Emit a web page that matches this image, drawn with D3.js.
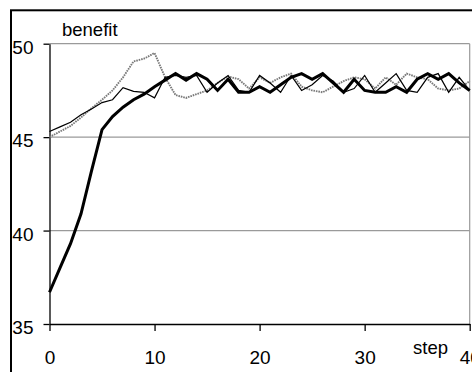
<!DOCTYPE html>
<html>
<head>
<meta charset="utf-8">
<script src="https://cdn.jsdelivr.net/npm/d3@7/dist/d3.min.js"></script>
<style>
  html, body { margin: 0; padding: 0; background: #fff; }
  svg { display: block; }
  text { font-family: "Liberation Sans", Arial, sans-serif; fill: #000; }
</style>
</head>
<body>
<svg id="chart" width="472" height="372"></svg>
<script>
// steps 0..40
const steps = d3.range(0, 41);

// three runs of the benefit over the steps
const runThick = [36.7, 38.0, 39.3, 40.9, 43.2, 45.4, 46.1, 46.6, 47.0, 47.3,
  47.7, 48.05, 48.4, 48.05, 48.4, 48.1, 47.5, 48.1, 47.4, 47.4,
  47.7, 47.4, 47.8, 48.2, 48.4, 48.1, 48.4, 47.9, 47.4, 48.1,
  47.5, 47.4, 47.4, 47.7, 47.4, 48.1, 48.4, 48.1, 48.4, 47.9, 47.5];

const runThin = [45.3, 45.55, 45.8, 46.2, 46.5, 46.85, 47.0, 47.65, 47.45, 47.4,
  47.1, 48.2, 48.3, 48.2, 48.3, 47.4, 47.9, 48.3, 47.5, 47.4,
  48.3, 47.9, 47.4, 48.3, 47.5, 47.8, 48.3, 48.0, 47.4, 47.6,
  48.3, 47.4, 47.9, 48.4, 47.5, 47.4, 48.2, 48.4, 47.4, 48.2, 47.5];

const runGray = [45.0, 45.3, 45.6, 46.05, 46.55, 47.0, 47.5, 48.2, 49.05, 49.2,
  49.5, 48.2, 47.25, 47.1, 47.3, 47.5, 47.9, 48.25, 48.1, 47.6,
  48.2, 47.9, 48.2, 48.4, 47.7, 47.5, 47.4, 47.7, 48.0, 48.2,
  48.1, 47.6, 48.2, 47.8, 48.4, 48.2, 48.1, 47.6, 47.5, 47.6, 48.0];

const xTicks = [0, 10, 20, 30, 40];
const yTicks = [35, 40, 45, 50];
const gridValues = [40, 45, 50];

const svg = d3.select("#chart");

const x = d3.scaleLinear().domain([0, 40]).range([49.5, 469.7]);
const y = d3.scaleLinear().domain([35, 50]).range([324, 43.7]);

// outer frame
svg.append("rect")
  .attr("x", 11).attr("y", 10.3)
  .attr("width", 600).attr("height", 500)
  .attr("fill", "none").attr("stroke", "#000").attr("stroke-width", 2);

// horizontal gridlines
svg.append("g").selectAll("line").data(gridValues).join("line")
  .attr("x1", x(0)).attr("x2", x(40))
  .attr("y1", d => y(d)).attr("y2", d => y(d))
  .attr("stroke", "#9a9a9a").attr("stroke-width", 1.2);

// right edge of plot area
svg.append("line")
  .attr("x1", x(40)).attr("x2", x(40))
  .attr("y1", y(50)).attr("y2", y(35))
  .attr("stroke", "#9a9a9a").attr("stroke-width", 1.2);

// axes
const yAxis = svg.append("g")
  .attr("transform", `translate(${x(0)},0)`)
  .call(d3.axisLeft(y).tickValues(yTicks).tickFormat(d3.format("d"))
    .tickSize(6).tickSizeOuter(0).tickPadding(10));
yAxis.selectAll("text").attr("dy", "0.5em").style("font-size", "19px")
  .attr("fill", "#000");

const xAxis = svg.append("g")
  .attr("transform", `translate(0,${y(35)})`)
  .call(d3.axisBottom(x).tickValues(xTicks).tickFormat(d3.format("d"))
    .tickSize(7).tickSizeOuter(0).tickPadding(20));
xAxis.selectAll("text").style("font-size", "19px").attr("fill", "#000");

svg.selectAll(".domain, .tick line").attr("stroke", "#000").attr("stroke-width", 1.3);

// series lines
const line = d3.line()
  .x((d, i) => x(steps[i]))
  .y(d => y(d));

svg.append("path").datum(runGray)
  .attr("d", line).attr("fill", "none")
  .attr("stroke", "#7a7a7a").attr("stroke-width", 1.9)
  .attr("stroke-dasharray", "1.6,0.9");

svg.append("path").datum(runThin)
  .attr("d", line).attr("fill", "none")
  .attr("stroke", "#000").attr("stroke-width", 1.2);

svg.append("path").datum(runThick)
  .attr("d", line).attr("fill", "none")
  .attr("stroke", "#000").attr("stroke-width", 3);

// axis titles
svg.append("text").attr("x", 62).attr("y", 36)
  .style("font-size", "18.5px").text("benefit");
svg.append("text").attr("x", 413).attr("y", 354)
  .style("font-size", "18.5px").text("step");
</script>
</body>
</html>
